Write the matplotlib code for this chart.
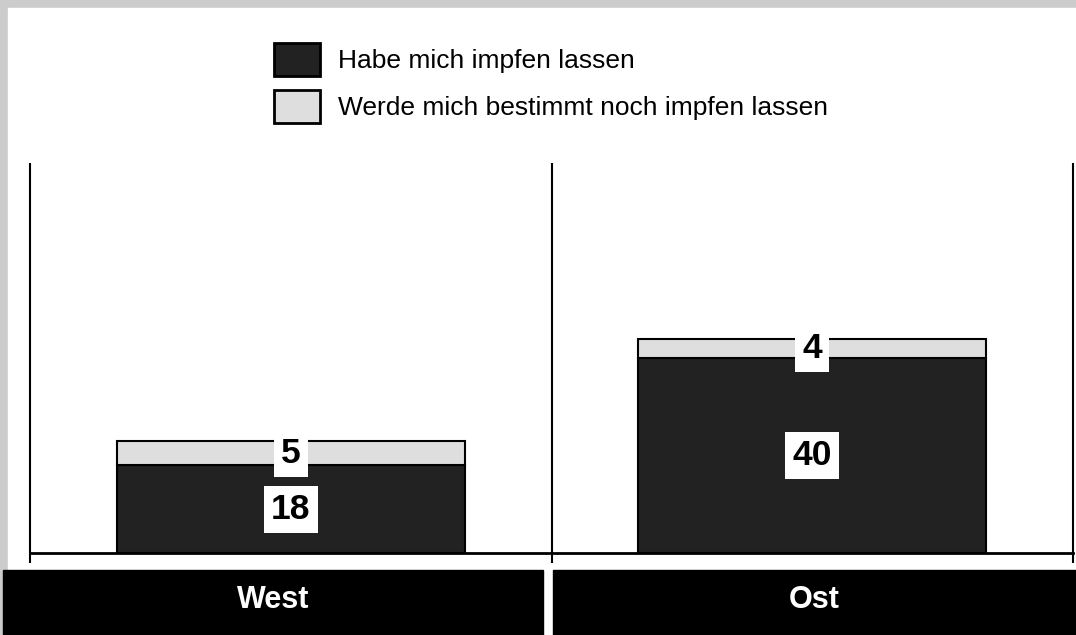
import numpy as np
import matplotlib
matplotlib.use('Agg')
from matplotlib import pyplot as plt
from matplotlib.patches import Rectangle

plt.rcParams['font.family'] = ['Liberation Sans', 'DejaVu Sans']

regions = ['West', 'Ost']
geimpft = [18, 40]          # Habe mich impfen lassen
bestimmt = [5, 4]           # Werde mich bestimmt noch impfen lassen
series_names = ['Habe mich impfen lassen', 'Werde mich bestimmt noch impfen lassen']

W, H = 1076, 635
dark = '#222222'
light = '#dedede'

fig = plt.figure(figsize=(W / 100, H / 100), dpi=100)


def fx(px):
    return px / W


def fy(py):
    # pixel measured from the top
    return 1 - py / H


# grey frame with white panel
fig.patches.append(Rectangle((0, 0), 1, 1, transform=fig.transFigure, color='#cccccc', zorder=-10))
fig.patches.append(Rectangle((fx(8), 0), 1, fy(8), transform=fig.transFigure, color='white', zorder=-9))

# plot area
ax = fig.add_axes([fx(30), fy(553), fx(1073 - 30), (553 - 163) / H])
ax.set_xlim(-0.5, 1.5)
ax.set_ylim(0, 80)
ax.axis('off')

x = np.arange(len(regions))
b1 = ax.bar(x, geimpft, width=0.667, color=dark, edgecolor='black', linewidth=1.5, zorder=2)
b2 = ax.bar(x, bestimmt, bottom=geimpft, width=0.667, color=light, edgecolor='black',
            linewidth=1.5, zorder=2)

for i in range(len(regions)):
    ax.text(x[i], geimpft[i] / 2, str(geimpft[i]), ha='center', va='center', fontsize=25.5,
            fontweight='bold', color='black', zorder=5,
            bbox=dict(boxstyle='square,pad=0.2', fc='white', ec='none'))
    ax.text(x[i], geimpft[i] + bestimmt[i] / 2, str(bestimmt[i]), ha='center', va='center',
            fontsize=25.5, fontweight='bold', color='black', zorder=5,
            bbox=dict(boxstyle='square,pad=0.2', fc='white', ec='none'))

# separators and baseline
ax.vlines([-0.5, 0.5, 1.5], -2, 80, color='black', linewidth=1.5, clip_on=False)
ax.axhline(0, color='black', linewidth=2, zorder=4, clip_on=False)

# region label boxes
label_boxes = [(3, 543), (553, 1080)]
for name, (x0, x1) in zip(regions, label_boxes):
    fig.patches.append(Rectangle((fx(x0), 0), fx(x1 - x0), fy(570), transform=fig.transFigure,
                                 color='black', zorder=1))
    fig.text(fx((x0 + min(x1, W)) / 2), fy(600), name, ha='center', va='center', color='white',
             fontsize=22, fontweight='bold', zorder=2)

# legend
for name, col, y in zip(series_names, [dark, light], [43, 90]):
    fig.patches.append(Rectangle((fx(274), fy(y + 33)), fx(46), 33 / H, transform=fig.transFigure,
                                 facecolor=col, edgecolor='black', linewidth=2))
    fig.text(fx(338), fy(y + 18), name, ha='left', va='center', fontsize=19, color='black')

fig.savefig('out.png', dpi=100)
